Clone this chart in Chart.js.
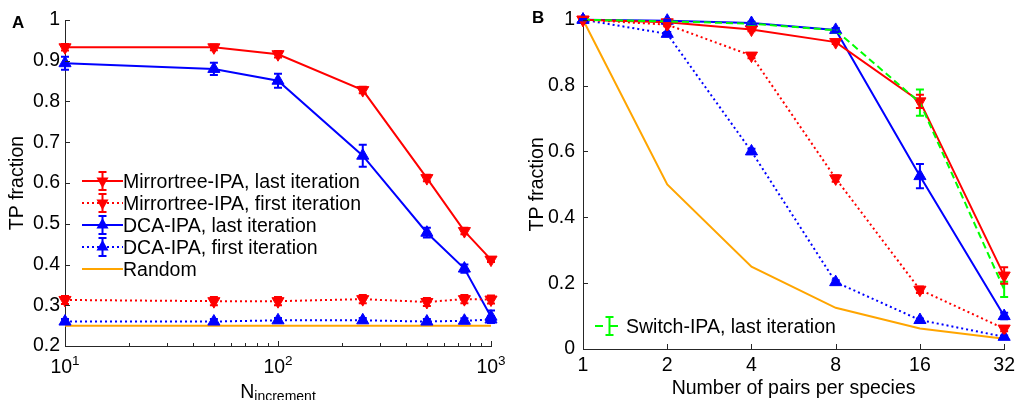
<!DOCTYPE html>
<html>
<head>
<meta charset="utf-8">
<script src="https://cdn.jsdelivr.net/npm/chart.js@4.4.0/dist/chart.umd.min.js"></script>
<style>
  body { margin: 0; background: #fff; font-family: "Liberation Sans", Arial, sans-serif; }
  #wrap { position: relative; width: 1020px; height: 400px; overflow: hidden; }
  canvas { position: absolute; top: 0; }
  .letter { position: absolute; font-weight: bold; font-size: 17px; line-height: 17px; color: #000; }
  .legend { position: absolute; font-size: 19.5px; color: #000; }
  .legend .row { display: flex; align-items: center; height: 22px; white-space: nowrap; }
  .legend svg { display: block; }
  #xtitleA { position: absolute; left: 0; width: 556px; text-align: center; top: 382px; font-size: 19.5px; line-height: 19px; color: #000; }
  #xtitleA sub { font-size: 14px; vertical-align: -3px; line-height: 0; }
</style>
</head>
<body>
<div id="wrap">
  <canvas id="chartA" width="515" height="400" style="left:0"></canvas>
  <canvas id="chartB" width="505" height="400" style="left:515px"></canvas>
  <div class="letter" style="left:12px;top:14px">A</div>
  <div class="letter" style="left:532px;top:9px">B</div>
  <div id="xtitleA">N<sub>increment</sub></div>
  <div class="legend" id="legendA" style="left:82px;top:170px"></div>
  <div class="legend" id="legendB" style="left:595px;top:315px"></div>
</div>
<script>
// ---- panel A data (x = N_increment) ----
const nIncrement = [10, 50, 100, 250, 500, 750, 1000];
const mirrorLastA = [0.933, 0.933, 0.916, 0.828, 0.612, 0.482, 0.412];
const mirrorLastErrA = [0.008, 0.007, 0.008, 0.008, 0.008, 0.008, 0.006];
const mirrorFirstA = [0.313, 0.310, 0.310, 0.315, 0.308, 0.315, 0.314];
const mirrorFirstErrA = [0.010, 0.010, 0.010, 0.010, 0.010, 0.010, 0.010];
const dcaLastA = [0.894, 0.880, 0.851, 0.667, 0.478, 0.390, 0.272];
const dcaLastErrA = [0.016, 0.015, 0.017, 0.027, 0.012, 0.010, 0.015];
const dcaFirstA = [0.260, 0.260, 0.263, 0.263, 0.260, 0.262, 0.265];
const dcaFirstErrA = [0.006, 0.006, 0.006, 0.006, 0.006, 0.006, 0.008];
const randomA = [0.25, 0.25, 0.25, 0.25, 0.25, 0.25, 0.25];
const yTicksA = [0.2, 0.3, 0.4, 0.5, 0.6, 0.7, 0.8, 0.9, 1];
const yLabelsA = ['0.2', '0.3', '0.4', '0.5', '0.6', '0.7', '0.8', '0.9', '1'];
const xTicksA = [10, 100, 1000];

// ---- panel B data (x = pairs per species) ----
const pairs = [1, 2, 4, 8, 16, 32];
const mirrorLastB = [1.0, 0.992, 0.970, 0.932, 0.752, 0.223];
const mirrorLastErrB = [0.003, 0.004, 0.005, 0.006, 0.02, 0.025];
const mirrorFirstB = [1.0, 0.985, 0.891, 0.518, 0.180, 0.062];
const mirrorFirstErrB = [0.003, 0.005, 0.008, 0.010, 0.010, 0.008];
const dcaLastB = [1.0, 0.997, 0.990, 0.969, 0.525, 0.100];
const dcaLastErrB = [0.002, 0.003, 0.004, 0.006, 0.037, 0.010];
const dcaFirstB = [1.0, 0.957, 0.600, 0.203, 0.088, 0.037];
const dcaFirstErrB = [0.002, 0.006, 0.008, 0.006, 0.005, 0.004];
const switchLastB = [1.0, 0.995, 0.988, 0.968, 0.748, 0.181];
const switchLastErrB = [0.002, 0.003, 0.004, 0.006, 0.040, 0.023];
const randomB = [1, 0.5, 0.25, 0.125, 0.0625, 0.03125];
const yTicksB = [0, 0.2, 0.4, 0.6, 0.8, 1];
const yLabelsB = ['0', '0.2', '0.4', '0.6', '0.8', '1'];

const FONT = '"Liberation Sans", Arial, sans-serif';
const AXIS = '#262626';
const RED = '#ff0000', BLUE = '#0000ff', ORANGE = '#ffa500', GREEN = '#00ff00';
const DOT = [2, 3], DASH = [7, 4];

function series(xs, ys, color, opts) {
  return Object.assign({
    data: xs.map((x, i) => ({ x: x, y: ys[i] })),
    borderColor: color,
    backgroundColor: color,
    pointBackgroundColor: color,
    pointBorderColor: color,
    borderWidth: 2,
    pointRadius: 0,
    pointBorderWidth: 1,
    tension: 0,
    clip: false
  }, opts || {});
}

// error bars drawn from the dataset's own "errors" array
const errorBarPlugin = {
  id: 'errorBars',
  afterDatasetsDraw(chart) {
    const ctx = chart.ctx;
    const ys = chart.scales.y;
    chart.data.datasets.forEach((ds, i) => {
      if (!ds.errors) return;
      const meta = chart.getDatasetMeta(i);
      ctx.save();
      ctx.strokeStyle = ds.borderColor;
      ctx.lineWidth = 2;
      ctx.setLineDash([]);
      meta.data.forEach((pt, j) => {
        const e = ds.errors[j];
        if (!e) return;
        const v = ds.data[j].y;
        const y1 = ys.getPixelForValue(v - e);
        const y2 = ys.getPixelForValue(v + e);
        ctx.beginPath();
        ctx.moveTo(pt.x, y1); ctx.lineTo(pt.x, y2);
        ctx.moveTo(pt.x - 4, y1); ctx.lineTo(pt.x + 4, y1);
        ctx.moveTo(pt.x - 4, y2); ctx.lineTo(pt.x + 4, y2);
        ctx.stroke();
      });
      ctx.restore();
    });
  }
};

// inward tick marks on bottom and left axes
function inwardTicks(xMajor, xMinor, yMajor) {
  return {
    id: 'inwardTicks',
    afterDraw(chart) {
      const { ctx, scales: { x, y } } = chart;
      const area = chart.chartArea;
      ctx.save();
      ctx.strokeStyle = AXIS;
      ctx.lineWidth = 1;
      ctx.beginPath();
      xMajor.forEach(v => {
        const px = Math.round(x.getPixelForValue(v)) + 0.5;
        ctx.moveTo(px, area.bottom); ctx.lineTo(px, area.bottom - 5);
      });
      xMinor.forEach(v => {
        const px = Math.round(x.getPixelForValue(v)) + 0.5;
        ctx.moveTo(px, area.bottom); ctx.lineTo(px, area.bottom - 3);
      });
      yMajor.forEach(v => {
        const py = Math.round(y.getPixelForValue(v)) + 0.5;
        ctx.moveTo(area.left, py); ctx.lineTo(area.left + 5, py);
      });
      ctx.stroke();
      ctx.restore();
    }
  };
}

// 10^n labels for the log axis of panel A
const powerLabels = {
  id: 'powerLabels',
  afterDraw(chart) {
    const ctx = chart.ctx;
    const x = chart.scales.x;
    ctx.save();
    ctx.fillStyle = '#000';
    ctx.textBaseline = 'alphabetic';
    ctx.textAlign = 'left';
    xTicksA.forEach(v => {
      const px = x.getPixelForValue(v);
      const exp = String(Math.round(Math.log10(v)));
      ctx.font = '19.5px ' + FONT;
      const w1 = ctx.measureText('10').width;
      ctx.font = '13.5px ' + FONT;
      const w2 = ctx.measureText(exp).width;
      const start = px - (w1 + w2) / 2;
      ctx.font = '19.5px ' + FONT;
      ctx.fillText('10', start, 373);
      ctx.font = '13.5px ' + FONT;
      ctx.fillText(exp, start + w1, 365);
    });
    ctx.restore();
  }
};

const minorA = [];
[10, 100].forEach(d => { for (let k = 2; k <= 9; k++) minorA.push(k * d); });

const tickFont = { family: FONT, size: 19.5 };

new Chart(document.getElementById('chartA'), {
  type: 'line',
  data: {
    datasets: [
      series(nIncrement, mirrorLastA, RED, { errors: mirrorLastErrA, pointStyle: 'triangle', pointRotation: 180, pointRadius: 7 }),
      series(nIncrement, mirrorFirstA, RED, { errors: mirrorFirstErrA, borderDash: DOT, pointStyle: 'triangle', pointRotation: 180, pointRadius: 7 }),
      series(nIncrement, dcaLastA, BLUE, { errors: dcaLastErrA, pointStyle: 'triangle', pointRadius: 7 }),
      series(nIncrement, dcaFirstA, BLUE, { errors: dcaFirstErrA, borderDash: DOT, pointStyle: 'triangle', pointRadius: 7 }),
      series(nIncrement, randomA, ORANGE)
    ]
  },
  options: {
    responsive: false,
    animation: false,
    events: [],
    layout: { padding: { top: 20, right: 24, left: 0, bottom: 0 } },
    plugins: { legend: { display: false }, tooltip: { enabled: false } },
    scales: {
      x: {
        type: 'logarithmic', min: 10, max: 1000,
        grid: { display: false, drawTicks: false },
        border: { color: AXIS, width: 1 },
        ticks: { display: false },
        afterBuildTicks: s => { s.ticks = xTicksA.map(v => ({ value: v })); },
        afterFit: s => { s.height = 54; }
      },
      y: {
        type: 'linear', min: 0.2, max: 1,
        grid: { display: false, drawTicks: false },
        border: { color: AXIS, width: 1 },
        ticks: { font: tickFont, color: '#000', padding: 5, callback: (v, i) => yLabelsA[i] },
        afterBuildTicks: s => { s.ticks = yTicksA.map(v => ({ value: v })); },
        afterFit: s => { s.width = 65; },
        title: { display: true, text: 'TP fraction', font: tickFont, color: '#000', padding: { top: 6, bottom: 0 } }
      }
    }
  },
  plugins: [errorBarPlugin, inwardTicks(xTicksA, minorA, yTicksA), powerLabels]
});

new Chart(document.getElementById('chartB'), {
  type: 'line',
  data: {
    datasets: [
      series(pairs, switchLastB, GREEN, { errors: switchLastErrB, borderDash: DASH }),
      series(pairs, mirrorLastB, RED, { errors: mirrorLastErrB, pointStyle: 'triangle', pointRotation: 180, pointRadius: 7 }),
      series(pairs, dcaLastB, BLUE, { errors: dcaLastErrB, pointStyle: 'triangle', pointRadius: 7 }),
      series(pairs, mirrorFirstB, RED, { errors: mirrorFirstErrB, borderDash: DOT, pointStyle: 'triangle', pointRotation: 180, pointRadius: 7 }),
      series(pairs, dcaFirstB, BLUE, { errors: dcaFirstErrB, borderDash: DOT, pointStyle: 'triangle', pointRadius: 7 }),
      series(pairs, randomB, ORANGE)
    ]
  },
  options: {
    responsive: false,
    animation: false,
    events: [],
    layout: { padding: { top: 17, right: 11, left: 0, bottom: 0 } },
    plugins: { legend: { display: false }, tooltip: { enabled: false } },
    scales: {
      x: {
        type: 'logarithmic', min: 1, max: 32,
        grid: { display: false, drawTicks: false },
        border: { color: AXIS, width: 1 },
        ticks: { font: tickFont, color: '#000', padding: 5, maxRotation: 0, autoSkip: false, callback: (v, i) => String(pairs[i]) },
        afterBuildTicks: s => { s.ticks = pairs.map(v => ({ value: v })); },
        afterFit: s => { s.height = 51; },
        title: { display: true, text: 'Number of pairs per species', font: tickFont, color: '#000', padding: { top: 0, bottom: 0 } }
      },
      y: {
        type: 'linear', min: 0, max: 1,
        grid: { display: false, drawTicks: false },
        border: { color: AXIS, width: 1 },
        ticks: { font: tickFont, color: '#000', padding: 8, callback: (v, i) => yLabelsB[i] },
        afterBuildTicks: s => { s.ticks = yTicksB.map(v => ({ value: v })); },
        afterFit: s => { s.width = 68; },
        title: { display: true, text: 'TP fraction', font: tickFont, color: '#000', padding: { top: 11, bottom: 0 } }
      }
    }
  },
  plugins: [errorBarPlugin, inwardTicks(pairs, [], yTicksB)]
});

// ---- legends (HTML, inside the plot areas) ----
function symbol(item, w, cx) {
  const h = 22, cy = 11;
  let s = `<svg width="${w}" height="${h}">`;
  s += `<line x1="0" y1="${cy}" x2="${w}" y2="${cy}" stroke="${item.color}" stroke-width="2"` +
       (item.dash ? ` stroke-dasharray="${item.dash.join(' ')}"` : '') + '/>';
  if (item.err) {
    s += `<path d="M${cx} 2V20M${cx - 4} 2H${cx + 4}M${cx - 4} 20H${cx + 4}" stroke="${item.color}" stroke-width="2" fill="none"/>`;
  }
  if (item.marker === 'up') {
    s += `<polygon points="${cx},${cy - 7} ${cx + 6.06},${cy + 3.5} ${cx - 6.06},${cy + 3.5}" fill="${item.color}"/>`;
  } else if (item.marker === 'down') {
    s += `<polygon points="${cx},${cy + 7} ${cx + 6.06},${cy - 3.5} ${cx - 6.06},${cy - 3.5}" fill="${item.color}"/>`;
  }
  return s + '</svg>';
}

const legendItemsA = [
  { label: 'Mirrortree-IPA, last iteration', color: RED, marker: 'down', err: true },
  { label: 'Mirrortree-IPA, first iteration', color: RED, dash: DOT, marker: 'down', err: true },
  { label: 'DCA-IPA, last iteration', color: BLUE, marker: 'up', err: true },
  { label: 'DCA-IPA, first iteration', color: BLUE, dash: DOT, marker: 'up', err: true },
  { label: 'Random', color: ORANGE }
];
const legendItemsB = [
  { label: 'Switch-IPA, last iteration', color: GREEN, dash: [8, 7], err: true }
];

document.getElementById('legendA').innerHTML = legendItemsA.map(it =>
  `<div class="row">${symbol(it, 41, 20.5)}<span>${it.label}</span></div>`).join('');
document.getElementById('legendB').innerHTML = legendItemsB.map(it =>
  `<div class="row">${symbol(it, 29, 14.5)}<span style="margin-left:2px">${it.label}</span></div>`).join('');
</script>
</body>
</html>
